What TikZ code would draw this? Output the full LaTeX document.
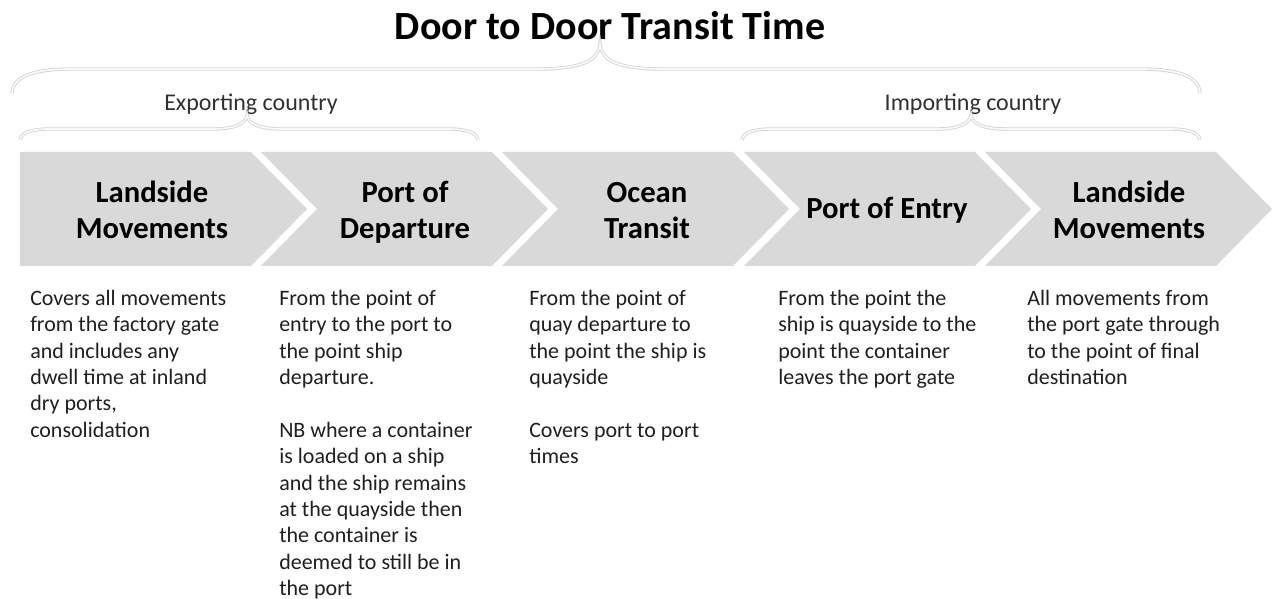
\documentclass[tikz,border=0pt]{standalone}
\usepackage{fontspec}
\setmainfont{Carlito}
\usepackage{xcolor}
\usepackage{tikz}
\definecolor{chevgray}{HTML}{D9D9D9}
\definecolor{bracegray}{HTML}{D2D2D2}
\definecolor{body}{HTML}{1F1F1F}
\definecolor{country}{HTML}{303030}

\begin{document}
\begin{tikzpicture}[x=0.75pt, y=-0.75pt,
  every node/.style={inner sep=0pt},
  chev/.style={fill=chevgray},
  bracestroke/.style={draw=bracegray, line width=0.6pt, double=gray!5, double distance=1.3pt},
  steplabel/.style={font=\fontsize{23}{27.2}\selectfont\bfseries, align=center, text=black},
  desc/.style={font=\fontsize{16.5}{19.8}\selectfont, align=left, anchor=north west, text=body}]
  \useasboundingbox (0,0) rectangle (1272,599);
  % Title and braces
  \node[font=\fontsize{30}{36}\selectfont\bfseries, anchor=base] (title) at (610,40) {Door to Door Transit Time};
  \draw[bracestroke] (12,93) .. controls (13,77) and (32,69) .. (72,69) -- (535,69)
    .. controls (580,69) and (598,62) .. (600,44) .. controls (602,62) and (620,69) .. (665,69)
    -- (1140,69) .. controls (1180,69) and (1199,77) .. (1200,93);
  \node[font=\fontsize{18}{22}\selectfont, anchor=base, text=country] (export) at (251,111) {Exporting country};
  \node[font=\fontsize{18}{22}\selectfont, anchor=base, text=country] (import) at (973,111) {Importing country};
  \draw[bracestroke] (20,140) .. controls (21,133) and (30,129) .. (50,129) -- (212,129)
    .. controls (234,129) and (246,124) .. (247,115) .. controls (248,124) and (260,129) .. (282,129)
    -- (448,129) .. controls (468,129) and (477,133) .. (478,140);
  \draw[bracestroke] (742,140) .. controls (743,133) and (752,129) .. (772,129) -- (936,129)
    .. controls (958,129) and (970,124) .. (971,115) .. controls (972,124) and (984,129) .. (1006,129)
    -- (1170,129) .. controls (1190,129) and (1199,133) .. (1200,140);
  % Chevrons
  \fill[chev] (20,152) -- (251,152) -- (307,209) -- (251,266) -- (20,266) -- cycle;
  \fill[chev] (261,152) -- (492,152) -- (548,209) -- (492,266) -- (261,266) -- (317,209) -- cycle;
  \fill[chev] (502,152) -- (733,152) -- (789,209) -- (733,266) -- (502,266) -- (558,209) -- cycle;
  \fill[chev] (744,152) -- (975,152) -- (1031,209) -- (975,266) -- (744,266) -- (800,209) -- cycle;
  \fill[chev] (985,152) -- (1216,152) -- (1272,209) -- (1216,266) -- (985,266) -- (1041,209) -- cycle;
  \node[steplabel] (c1) at (152,213) {Landside\strut\\Movements\strut};
  \node[steplabel] (c2) at (405,213) {Port of\strut\\Departure\strut};
  \node[steplabel] (c3) at (647,213) {Ocean\strut\\Transit\strut};
  \node[steplabel] (c4) at (887,211) {Port of Entry\strut};
  \node[steplabel] (c5) at (1129,213) {Landside\strut\\Movements\strut};
  % Descriptions
  \node[desc] (d1) at (30,286.5) {\strut Covers all movements\\from the factory gate\\and includes any\\dwell time at inland\\dry ports,\\consolidation};
  \node[desc] (d2) at (279,286.5) {\strut From the point of\\entry to the port to\\the point ship\\departure.\\[19.8pt]NB where a container\\is loaded on a ship\\and the ship remains\\at the quayside then\\the container is\\deemed to still be in\\the port};
  \node[desc] (d3) at (529,286.5) {\strut From the point of\\quay departure to\\the point the ship is\\quayside\\[19.8pt]Covers port to port\\times};
  \node[desc] (d4) at (778,286.5) {\strut From the point the\\ship is quayside to the\\point the container\\leaves the port gate};
  \node[desc] (d5) at (1027,286.5) {\strut All movements from\\the port gate through\\to the point of final\\destination};
\end{tikzpicture}
\end{document}
